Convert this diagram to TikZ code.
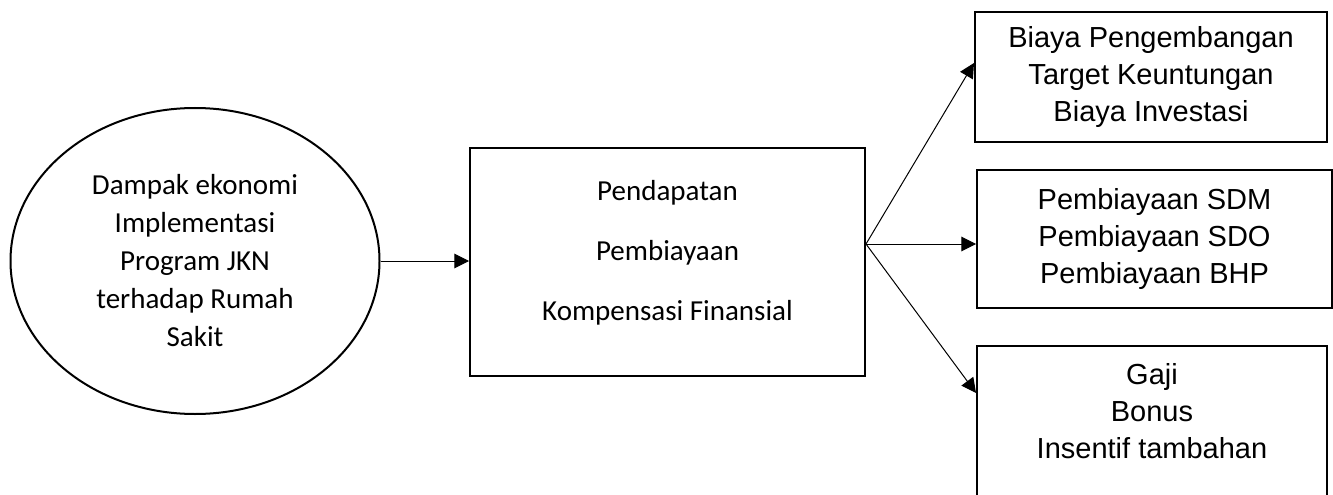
\documentclass[tikz,border=0pt]{standalone}
\usepackage{fontspec}
\setmainfont{Carlito}
\newfontfamily\arialfont{Liberation Sans}
\usetikzlibrary{arrows.meta, positioning, shapes.geometric}

\tikzset{
  arr/.style={-{Triangle[length=11pt,width=11pt]}, line width=0.75pt},
  rbox/.style={draw, line width=1.5pt, align=center, inner sep=0pt,
    font=\arialfont\fontsize{21.75}{27.75}\selectfont},
}

\begin{document}
\begin{tikzpicture}[x=0.75pt, y=-0.75pt]
        \useasboundingbox (0,0) rectangle (1333,495);
        \clip (0,0) rectangle (1333,495);
        % left ellipse
        \node[ellipse, draw, line width=1.5pt, inner sep=0pt, align=center,
          minimum width=276.75pt, minimum height=229.5pt,
          font=\fontsize{21.75}{28.5}\selectfont] (dampak) at (195,261)
          {Dampak ekonomi\\Implementasi\\Program JKN\\terhadap Rumah\\Sakit};
        % middle box
        \node[draw, line width=1.5pt, minimum width=296.25pt, minimum height=171pt] (biaya) at (667.5,262) {};
        \node[align=center, font=\fontsize{21.75}{45}\selectfont] (biayatext) at (667.5,253)
          {Pendapatan\\Pembiayaan\\Kompensasi Finansial};
        % right boxes
        \node[rbox, minimum width=264pt, minimum height=97.5pt] (tujuan) at (1151,77)
          {Biaya Pengembangan\\Target Keuntungan\\Biaya Investasi};
        \node[rbox, minimum width=266.25pt, minimum height=103.5pt] (sdm) at (1154.5,239)
          {Pembiayaan SDM\\Pembiayaan SDO\\Pembiayaan BHP};
        \node[rbox, minimum width=262.5pt, minimum height=124.5pt, anchor=north] (gaji) at (1152,345)
          {Gaji\\Bonus\\Insentif tambahan\\\mbox{}};
        % arrows
        \draw[arr] (dampak.east) -- (dampak.east -| biaya.west);
        \coordinate (fan) at ([yshift=13.5pt]biaya.east);
        \draw[arr] (fan) -- ([yshift=10.5pt]tujuan.west);
        \draw[arr] (fan) -- (fan -| sdm.west);
        \draw[arr] (fan) -- ([yshift=-36pt]gaji.north west);
      \end{tikzpicture}
\end{document}
